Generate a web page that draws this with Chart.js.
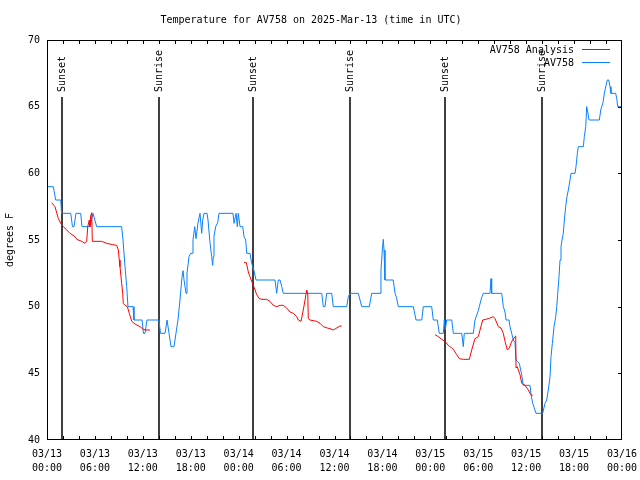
<!DOCTYPE html>
<html>
<head>
<meta charset="utf-8">
<script src="https://cdn.jsdelivr.net/npm/chart.js@4"></script>
<style>
  body { margin: 0; background: #fff; }
</style>
</head>
<body>
<canvas id="tempChart" width="640" height="480"></canvas>
<script>
const titleText = 'Temperature for AV758 on 2025-Mar-13 (time in UTC)';
const yTitle = 'degrees F';
const dayLabels = ['03/13', '03/14', '03/15', '03/16'];
const hourLabels = ['00:00', '06:00', '12:00', '18:00'];

// hours since 03/13 00:00 UTC
const obsHours = [0.13,0.79,1.09,1.72,1.82,2.97,3.19,3.38,3.63,4.22,
  4.38,5.38,5.76,6.22,9.35,9.52,9.77,9.98,10.14,10.77,
  10.89,11.90,12.08,12.27,12.52,14.02,14.21,14.78,15.03,15.28,
  15.53,15.90,16.15,16.40,16.65,16.90,17.03,17.16,17.41,17.53,
  17.78,17.99,18.22,18.28,18.50,18.66,18.91,19.16,19.37,19.50,
  19.66,20.04,20.16,20.41,20.62,20.75,20.82,20.91,21.12,21.37,
  21.54,23.29,23.42,23.67,23.83,23.95,24.17,24.51,24.67,24.88,
  25.01,25.42,25.63,25.92,26.17,28.55,28.76,28.96,29.18,29.39,
  29.59,34.40,34.60,34.81,35.02,35.65,35.85,37.53,37.73,37.94,
  38.98,39.41,40.36,40.66,41.70,41.82,41.99,42.11,42.20,42.32,
  43.36,43.58,43.76,43.99,45.87,46.21,46.92,47.12,48.17,48.37,
  48.87,49.12,49.63,49.75,49.88,50.05,50.68,50.88,51.93,52.13,
  52.25,53.38,53.59,54.01,54.13,54.43,54.63,55.47,55.60,55.68,
  56.94,57.14,57.35,57.48,57.85,57.98,58.19,58.39,58.60,58.73,
  58.89,59.14,59.44,59.64,60.48,60.61,60.82,61.23,62.07,62.36,
  62.57,62.77,62.99,63.11,63.28,63.49,63.70,63.83,63.95,64.11,
  64.24,64.36,64.49,64.65,64.78,64.95,65.11,65.28,65.49,65.62,
  66.12,66.24,66.41,66.53,67.16,67.28,67.46,67.58,67.71,67.87,
  69.16,69.34,69.46,69.62,69.79,70.00,70.16,70.34,70.50,70.62,
  71.21,71.34,71.47,72.00];
const obsTemps = [59,59,58,58,57,57,56,56,57,57,
  56,56,57,56,56,55,53,51.5,50,50,
  49,49,48,48,49,49,48,48,49,48,
  47,47,48,49,50.5,52.2,52.7,52,51,52.5,
  53.75,54,54,55,56,55.1,56.3,57,55.5,56.5,
  57,57,56.5,54.8,53.75,53.1,53.75,55.25,56,56.3,
  57,57,56.25,57,56,57,56,56,55.25,55,
  54,54,53.25,52.7,52,52,51,52,52,51.5,
  51,51,50,50,51,51,50,50,50.75,51,
  51,50,50,51,51,52.75,54.25,55.05,54.25,52,
  52,51,50.7,50,50,49,49,50,50,49,
  49,48,48,49,48.3,49,49,48,48,47,
  48,48,49,49.7,50,50.7,51,51,52.1,51,
  51,50,49.6,49,49,48.5,48,47.5,47.3,46,
  45.9,45.75,44.9,44.1,44.1,43.4,42.75,42,42,42.75,
  43,43.75,44.75,46.25,47.25,48.5,49.25,50,51,52.25,
  53.5,54.5,55,55.5,56.5,57.5,58.25,58.75,59.5,60,
  60,60.5,61.5,62,62,62.75,63.5,65,64.6,64,
  64,64.75,65,65.3,66,66.6,67,67,66.5,66,
  66,65.6,65,65];

// analysis runs, null marks a gap between runs
const anaHours = [0.59,1.00,1.42,1.72,2.04,2.47,2.88,3.51,3.72,4.35,
  4.76,4.97,5.10,5.30,5.38,5.47,5.60,5.67,6.85,7.48,
  8.23,8.73,8.93,9.05,9.14,9.35,9.48,9.55,9.77,10.06,
  10.31,10.61,11.02,11.65,12.06,12.40,12.90,
  18.5,
  24.67,24.96,25.21,25.42,25.63,25.83,26.05,26.26,26.58,26.92,
  27.51,27.92,28.34,28.76,29.18,29.59,30.01,30.43,30.84,31.27,
  31.47,31.81,32.09,32.31,32.52,32.65,32.72,32.93,33.77,34.19,
  34.60,35.10,35.44,35.85,36.28,36.69,36.90,
  42.0,
  48.59,49.00,49.42,49.84,50.25,50.68,50.88,51.30,51.63,52.13,
  52.88,53.18,53.59,54.01,54.22,54.56,55.26,55.89,56.10,56.51,
  56.85,57.14,57.35,57.64,57.89,58.19,58.60,58.69,58.73,58.89,
  59.02,59.23,59.44,59.86,60.27,60.57,60.82];
const anaTemps = [57.8,57.5,56.6,56.25,56,55.75,55.5,55.25,55.05,54.9,
  54.75,54.9,56,56.5,56,56.8,57.05,54.9,54.9,54.75,
  54.65,54.6,54.25,53.5,53,51.75,51,50.25,50.1,50,
  49.5,48.9,48.7,48.5,48.3,48.25,48.25,
  null,
  53.3,53.3,52.6,52.25,51.9,51.6,51.25,50.9,50.6,50.55,
  50.55,50.4,50.1,50,50.1,50.1,49.9,49.6,49.5,49.25,
  49,48.9,49.75,50.5,51.25,51,49.1,49,48.9,48.75,
  48.5,48.4,48.35,48.25,48.4,48.55,48.55,
  null,
  47.9,47.75,47.55,47.4,47.1,46.9,46.8,46.4,46.1,46.05,
  46.05,46.75,47.6,47.75,48.25,49,49.1,49.25,49.1,48.5,
  48.4,48,47.4,46.75,46.9,47.4,47.75,47.8,45.4,45.5,
  45.25,44.9,44.25,44.1,43.75,43.4,43.35];

const sunHours = [1.88, 14.02, 25.80, 37.94, 49.84, 61.99];
const sunNames = ['Sunset', 'Sunrise', 'Sunset', 'Sunrise', 'Sunset', 'Sunrise'];

const monoFont = '"DejaVu Sans Mono", monospace';
Chart.defaults.color = '#000';
Chart.defaults.font.family = monoFont;
Chart.defaults.font.size = 10;

// frame, inward ticks, sun lines and legend in gnuplot style
const gnuplotBits = {
    id: 'gnuplotBits',
    beforeDatasetsDraw(chart) {
        const {ctx, chartArea: a, scales: {x}} = chart;
        ctx.save();
        ctx.strokeStyle = '#000';
        ctx.fillStyle = '#000';
        ctx.lineWidth = 1.5;
        ctx.font = '10px ' + monoFont;
        sunHours.forEach((h, i) => {
            const px = Math.round(x.getPixelForValue(h));
            ctx.beginPath();
            ctx.moveTo(px, a.top + 57);
            ctx.lineTo(px, a.bottom);
            ctx.stroke();
            ctx.save();
            ctx.translate(px, a.top + 52);
            ctx.rotate(-Math.PI / 2);
            ctx.textAlign = 'left';
            ctx.textBaseline = 'middle';
            ctx.fillText(sunNames[i], 0, 0);
            ctx.restore();
        });
        ctx.restore();
    },
    afterDatasetsDraw(chart) {
        const {ctx, chartArea: a, scales: {x, y}} = chart;
        ctx.save();
        ctx.strokeStyle = '#000';
        ctx.lineWidth = 1;
        ctx.strokeRect(a.left + 0.5, a.top + 0.5, a.right - a.left - 1, a.bottom - a.top - 1);
        ctx.beginPath();
        for (let h = 2; h < 72; h += 2) {
            const px = Math.round(x.getPixelForValue(h)) + 0.5;
            ctx.moveTo(px, a.bottom);
            ctx.lineTo(px, a.bottom - 4);
            ctx.moveTo(px, a.top);
            ctx.lineTo(px, a.top + 4);
        }
        for (let v = 45; v < 70; v += 5) {
            const py = Math.round(y.getPixelForValue(v)) + 0.5;
            ctx.moveTo(a.right, py);
            ctx.lineTo(a.right - 4, py);
        }
        ctx.stroke();

        // legend
        ctx.font = '10px ' + monoFont;
        ctx.textAlign = 'right';
        ctx.textBaseline = 'middle';
        chart.data.datasets.forEach((ds, i) => {
            const ly = a.top + 9 + i * 13;
            ctx.fillStyle = '#000';
            ctx.fillText(ds.label, a.right - 48, ly + 1);
            ctx.strokeStyle = ds.borderColor;
            ctx.beginPath();
            ctx.moveTo(a.right - 40, ly + 0.5);
            ctx.lineTo(a.right - 12, ly + 0.5);
            ctx.stroke();
        });
        ctx.restore();
    }
};

const tickLabel = (v) => {
    if (v % 6 !== 0) return '';
    return [dayLabels[Math.floor(v / 24)], hourLabels[(v % 24) / 6]];
};

new Chart(document.getElementById('tempChart').getContext('2d'), {
    type: 'line',
    data: {
        datasets: [{
            label: 'AV758 Analysis',
            data: anaHours.map((h, i) => ({x: h, y: anaTemps[i]})),
            borderColor: '#ff0000',
            borderWidth: 1,
            pointRadius: 0,
            tension: 0,
            spanGaps: false
        }, {
            label: 'AV758',
            data: obsHours.map((h, i) => ({x: h, y: obsTemps[i]})),
            borderColor: '#0a80ff',
            borderWidth: 1,
            pointRadius: 0,
            tension: 0
        }]
    },
    options: {
        responsive: false,
        animation: false,
        devicePixelRatio: 1,
        layout: { padding: { right: 18, left: 0, bottom: 0, top: 0 } },
        plugins: {
            legend: { display: false },
            tooltip: { enabled: false },
            title: {
                display: true,
                text: titleText,
                font: { family: monoFont, size: 10, weight: 'normal' },
                color: '#000',
                padding: { top: 14, bottom: 14 }
            }
        },
        scales: {
            x: {
                type: 'linear',
                min: 0,
                max: 72,
                grid: { display: false, drawTicks: false },
                border: { display: false },
                afterFit: (s) => { s.height = 40; s.paddingLeft = 0; s.paddingRight = 0; },
                ticks: {
                    stepSize: 2,
                    autoSkip: false,
                    maxRotation: 0,
                    padding: 7,
                    font: { family: monoFont, size: 10, lineHeight: 1.4 },
                    callback: tickLabel
                }
            },
            y: {
                min: 40,
                max: 70,
                grid: { display: false, drawTicks: false },
                border: { display: false },
                afterFit: (s) => { s.width = 47; s.paddingTop = 0; s.paddingBottom = 0; },
                ticks: { stepSize: 5, padding: 7, font: { family: monoFont, size: 10 } },
                title: {
                    display: true,
                    text: yTitle,
                    font: { family: monoFont, size: 10 },
                    padding: { top: 4, bottom: 0 }
                }
            }
        }
    },
    plugins: [gnuplotBits]
});
</script>
</body>
</html>
